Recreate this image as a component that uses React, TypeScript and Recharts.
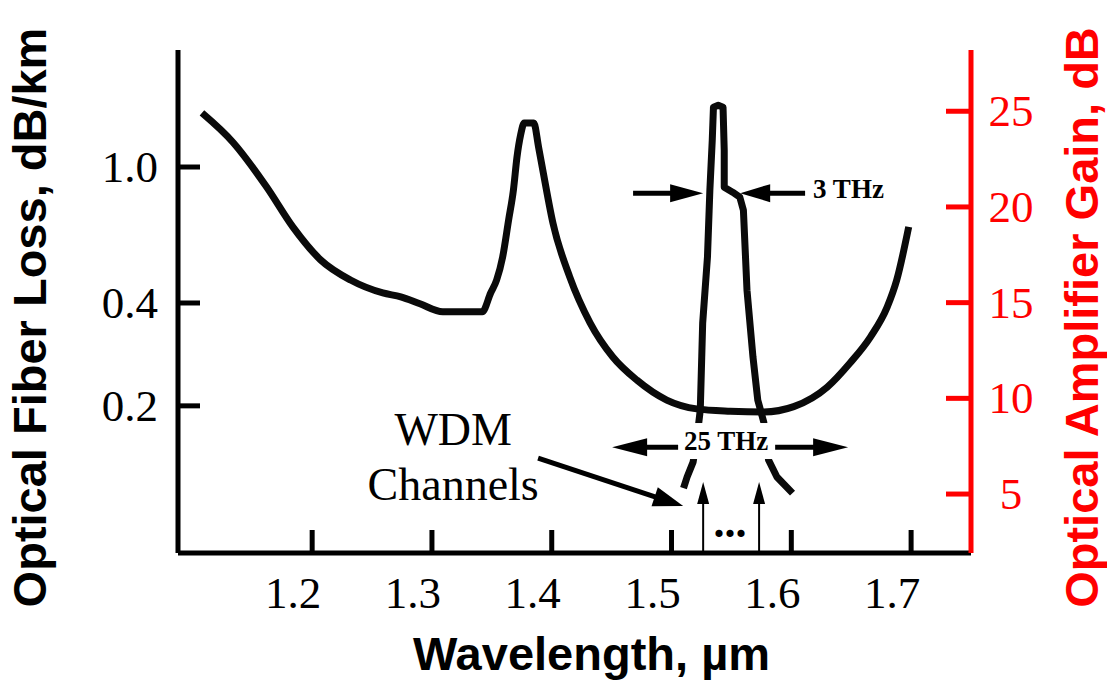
import { Line, LineChart, ReferenceDot, ReferenceLine, XAxis, YAxis } from "recharts";

// fiber loss curve (dB/km, log axis)
const lossWavelength = [
  1.108, 1.134, 1.162, 1.184, 1.207, 1.232, 1.259, 1.274, 1.29, 1.309, 1.342, 1.349, 1.354,
  1.359, 1.364, 1.368, 1.371, 1.374, 1.377, 1.385, 1.389, 1.393, 1.401, 1.415, 1.432, 1.451,
  1.471, 1.496, 1.521, 1.549, 1.577, 1.602, 1.63, 1.649, 1.666, 1.68, 1.688, 1.698,
];
const lossDbPerKm = [
  1.44, 1.18, 0.874, 0.667, 0.535, 0.467, 0.428, 0.417, 0.398, 0.377, 0.377, 0.428, 0.467,
  0.545, 0.7, 0.856, 1.07, 1.24, 1.345, 1.345, 1.144, 0.96, 0.686, 0.477, 0.35, 0.278,
  0.238, 0.208, 0.196, 0.193, 0.192, 0.199, 0.227, 0.267, 0.318, 0.389, 0.467, 0.668,
];

// EDFA gain spectrum (dB, right axis)
const gainWavelength = [
  1.51, 1.513, 1.518, 1.521, 1.524, 1.526, 1.53, 1.532, 1.534, 1.535, 1.539, 1.543, 1.544,
  1.544, 1.551, 1.557, 1.56, 1.563, 1.568, 1.572, 1.577, 1.581, 1.588, 1.601,
];
const gainDb = [
  5.31, 5.89, 6.67, 7.82, 9.39, 13.93, 17.38, 20.87, 23.49, 25.21, 25.31, 25.21, 22.96,
  21.03, 20.77, 20.51, 19.83, 15.65, 12.15, 9.91, 8.76, 6.78, 5.89, 5.05,
];

const wavelengthTicks = [1.2, 1.3, 1.4, 1.5, 1.6, 1.7];
const lossTicks = [0.2, 0.4, 1.0];
const gainTicks = [5, 10, 15, 20, 25];

const lossData = lossWavelength.map((w, i) => ({ w, loss: lossDbPerKm[i] }));
const gainData = gainWavelength.map((w, i) => ({ w, gain: gainDb[i] }));

const SERIF = '"Liberation Serif", "Times New Roman", serif';
const SANS = '"Liberation Sans", Arial, sans-serif';
const RED = "#ff0000";
const INK = "#0a0a0a";

function LossTick({ x, y, payload }: any) {
  return (
    <g>
      <line x1={x} x2={x + 22} y1={y} y2={y} stroke="#000" strokeWidth={5} />
      <text x={x - 20} y={y} dy={15} textAnchor="end" fontFamily={SERIF} fontSize={45} fill="#000">
        {Number(payload.value).toFixed(1)}
      </text>
    </g>
  );
}

function GainTick({ x, y, payload }: any) {
  return (
    <g>
      <line x1={x - 25} x2={x} y1={y} y2={y} stroke={RED} strokeWidth={5} />
      <text x={x + 40} y={y} dy={15} textAnchor="middle" fontFamily={SERIF} fontSize={45} fill={RED}>
        {payload.value}
      </text>
    </g>
  );
}

function WavelengthTick({ x, y, payload }: any) {
  return (
    <g>
      <line x1={x} x2={x} y1={y - 23} y2={y} stroke="#000" strokeWidth={5} />
      <text x={x - 19} y={y + 55} textAnchor="middle" fontFamily={SERIF} fontSize={45} fill="#000">
        {Number(payload.value).toFixed(1)}
      </text>
    </g>
  );
}

function arrowShape(head: number, half: number, width: number) {
  return (p: any) => {
    const { x1, y1, x2, y2 } = p;
    const dx = x2 - x1;
    const dy = y2 - y1;
    const len = Math.hypot(dx, dy) || 1;
    const ux = dx / len;
    const uy = dy / len;
    const bx = x2 - ux * head;
    const by = y2 - uy * head;
    const px = -uy * half;
    const py = ux * half;
    return (
      <g>
        <line x1={x1} y1={y1} x2={bx + ux * 2} y2={by + uy * 2} stroke="#000" strokeWidth={width} />
        <polygon points={`${x2},${y2} ${bx + px},${by + py} ${bx - px},${by - py}`} fill="#000" />
      </g>
    );
  };
}

function textShape(text: string, opts: { size: number; bold?: boolean; anchor?: string; box?: boolean }) {
  return (p: any) => (
    <g>
      {opts.box ? <rect x={p.cx - 46} y={p.cy - 27} width={93} height={36} fill="#fff" /> : null}
      <text
        x={p.cx}
        y={p.cy}
        textAnchor={opts.anchor ?? "middle"}
        fontFamily={SERIF}
        fontSize={opts.size}
        fontWeight={opts.bold ? 700 : 400}
        fill="#000"
      >
        {text}
      </text>
    </g>
  );
}

function verticalTitle(text: string, offset: number, color: string) {
  return (props: any) => {
    const { x, y, height } = props.viewBox;
    const bx = x + offset;
    const cy = y + height / 2 + 16;
    return (
      <text
        x={bx}
        y={cy}
        transform={`rotate(-90, ${bx}, ${cy})`}
        textAnchor="middle"
        fontFamily={SANS}
        fontWeight={700}
        fontSize={47}
        fill={color}
      >
        {text}
      </text>
    );
  };
}

function bottomTitle(props: any) {
  const { x, y, width } = props.viewBox;
  return (
    <text
      x={x + width / 2 + 17}
      y={y + 117}
      textAnchor="middle"
      fontFamily={SANS}
      fontWeight={700}
      fontSize={47}
      fill="#000"
    >
      Wavelength, µm
    </text>
  );
}

export default function App() {
  return (
    <div style={{ position: "absolute", left: 0, top: 0, width: 1107, height: 682, background: "#fff" }}>
      <LineChart width={1107} height={682} margin={{ top: 50, right: 0, bottom: 0, left: 0 }}>
        <XAxis
          dataKey="w"
          type="number"
          domain={[1.088, 1.75]}
          allowDataOverflow
          ticks={wavelengthTicks}
          height={129}
          tickSize={0}
          tickMargin={0}
          tickLine={false}
          tick={WavelengthTick}
          axisLine={{ stroke: "#000", strokeWidth: 5 }}
          label={{ content: bottomTitle }}
        />
        <YAxis
          yAxisId="loss"
          scale="log"
          domain={[0.0742, 2.2]}
          allowDataOverflow
          ticks={lossTicks}
          width={178}
          tickSize={0}
          tickMargin={0}
          tickLine={false}
          tick={LossTick}
          axisLine={{ stroke: "#000", strokeWidth: 5 }}
          label={{ content: verticalTitle("Optical Fiber Loss, dB/km", 46, "#000") }}
        />
        <YAxis
          yAxisId="gain"
          orientation="right"
          domain={[1.92, 28.2]}
          allowDataOverflow
          ticks={gainTicks}
          width={136}
          tickSize={0}
          tickMargin={0}
          tickLine={false}
          tick={GainTick}
          axisLine={{ stroke: RED, strokeWidth: 5 }}
          label={{ content: verticalTitle("Optical Amplifier Gain, dB", 127, RED) }}
        />
        <Line
          yAxisId="loss"
          data={lossData}
          dataKey="loss"
          type="monotone"
          stroke={INK}
          strokeWidth={7}
          strokeLinejoin="round"
          dot={false}
          isAnimationActive={false}
        />
        <Line
          yAxisId="gain"
          data={gainData}
          dataKey="gain"
          type="linear"
          stroke={INK}
          strokeWidth={7}
          strokeLinejoin="round"
          dot={false}
          isAnimationActive={false}
        />

        {/* 3 THz width arrows */}
        <ReferenceLine yAxisId="gain" ifOverflow="visible" segment={[{ x: 1.4679, y: 20.72 }, { x: 1.5264, y: 20.72 }]} shape={arrowShape(33, 9, 5)} />
        <ReferenceLine yAxisId="gain" ifOverflow="visible" segment={[{ x: 1.6115, y: 20.72 }, { x: 1.5573, y: 20.72 }]} shape={arrowShape(30, 9, 5)} />
        <ReferenceDot yAxisId="gain" ifOverflow="visible" x={1.6182} y={20.46} r={0} shape={textShape("3 THz", { size: 27, bold: true, anchor: "start" })} />

        {/* 25 THz band arrows */}
        <ReferenceLine yAxisId="gain" ifOverflow="visible" segment={[{ x: 1.5055, y: 7.45 }, { x: 1.4504, y: 7.45 }]} shape={arrowShape(35, 9, 5)} />
        <ReferenceLine yAxisId="gain" ifOverflow="visible" segment={[{ x: 1.5865, y: 7.45 }, { x: 1.6474, y: 7.45 }]} shape={arrowShape(35, 9, 5)} />
        <ReferenceDot yAxisId="gain" ifOverflow="visible" x={1.5456} y={7.3} r={0} shape={textShape("25 THz", { size: 27, bold: true, box: true })} />

        {/* WDM channels */}
        <ReferenceLine yAxisId="gain" ifOverflow="visible" segment={[{ x: 1.5264, y: 1.92 }, { x: 1.5264, y: 5.63 }]} shape={arrowShape(22, 6, 2)} />
        <ReferenceLine yAxisId="gain" ifOverflow="visible" segment={[{ x: 1.5731, y: 1.92 }, { x: 1.5731, y: 5.63 }]} shape={arrowShape(22, 6, 2)} />
        <ReferenceDot yAxisId="gain" ifOverflow="visible" x={1.5489} y={2.75} r={0} shape={textShape("...", { size: 44, bold: true })} />
        <ReferenceLine yAxisId="gain" ifOverflow="visible" segment={[{ x: 1.3886, y: 6.88 }, { x: 1.5097, y: 4.37 }]} shape={arrowShape(30, 10, 5)} />
        <ReferenceDot yAxisId="gain" ifOverflow="visible" x={1.3177} y={7.56} r={0} shape={textShape("WDM", { size: 46 })} />
        <ReferenceDot yAxisId="gain" ifOverflow="visible" x={1.3177} y={4.69} r={0} shape={textShape("Channels", { size: 46 })} />
      </LineChart>
    </div>
  );
}
